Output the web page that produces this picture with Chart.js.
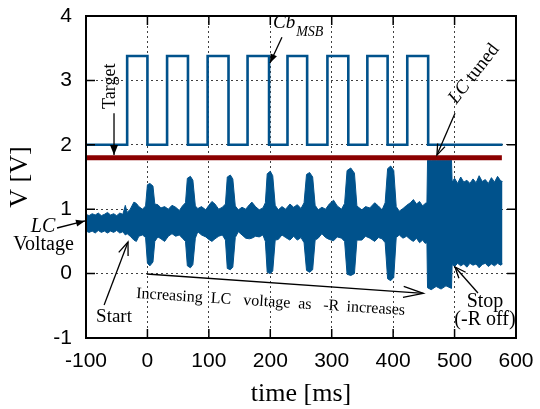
<!DOCTYPE html>
<html>
<head>
<meta charset="utf-8">
<script src="https://cdn.jsdelivr.net/npm/chart.js@4"></script>
<style>
  html, body { margin: 0; padding: 0; background: #fff; }
</style>
</head>
<body>
<canvas id="grafico" width="540" height="409"></canvas>
<script>
// LC voltage envelope: time (ms), upper and lower limit (V)
const lcTime = [
  -100, -95, -90, -85, -80, -75, -70, -65, -60, -55, -50, -45, -40, -36, -33, -28, -22, -18, -14, -8, -3,
  0, 4, 9, 12, 17, 22, 28, 34, 40, 46, 52, 57, 62,
  65, 70, 74, 78, 82, 88, 95, 100, 105, 110, 116, 122, 127,
  130, 135, 139, 143, 148, 154, 160, 166, 170, 176, 182, 188, 192,
  195, 200, 204, 208, 213, 219, 225, 232, 238, 244, 250, 255,
  259, 264, 269, 273, 278, 284, 290, 296, 303, 309, 316, 321,
  325, 331, 337, 341, 349, 355, 362, 370, 376, 382, 387,
  391, 396, 401, 405, 410, 416, 422, 428, 433, 438, 443, 448, 452, 455,
  456, 462, 470, 478, 486, 495,
  496, 500, 505, 510, 515, 520, 525, 530, 535, 540, 545, 550, 555, 560, 565, 570, 575, 578
];
const lcUpper = [
  0.92, 0.90, 0.93, 0.91, 0.94, 0.90, 0.92, 0.95, 0.91, 0.93, 0.90, 0.94, 0.92, 1.06, 0.95, 1.00, 1.11, 1.09, 1.04, 1.00, 1.05,
  1.38, 1.40, 1.36, 1.08, 1.07, 1.02, 1.04, 1.00, 1.06, 1.03, 0.98, 1.05, 1.10,
  1.48, 1.51, 1.45, 1.05, 1.01, 1.04, 0.99, 1.06, 1.12, 1.08, 1.00, 1.03, 1.08,
  1.50, 1.53, 1.47, 1.05, 0.99, 1.03, 1.00, 1.07, 1.11, 1.04, 0.99, 1.02, 1.10,
  1.55, 1.59, 1.52, 1.06, 0.99, 1.04, 1.00, 1.08, 1.03, 1.07, 1.01, 1.10,
  1.54, 1.57, 1.50, 1.06, 0.99, 1.03, 1.00, 1.08, 1.14, 1.05, 1.00, 1.09,
  1.60, 1.64, 1.56, 1.05, 0.99, 1.04, 1.02, 1.10, 1.05, 0.99, 1.10,
  1.63, 1.67, 1.60, 1.04, 0.97, 1.01, 1.06, 1.10, 1.15, 1.08, 1.12, 1.05, 1.09, 1.10,
  1.76, 1.76, 1.76, 1.76, 1.76, 1.76,
  1.42, 1.48, 1.40, 1.50, 1.42, 1.45, 1.40, 1.47, 1.41, 1.52, 1.43, 1.46, 1.40, 1.49, 1.42, 1.51, 1.44, 1.43
];
const lcLower = [
  0.66, 0.64, 0.66, 0.63, 0.67, 0.64, 0.66, 0.63, 0.66, 0.64, 0.67, 0.63, 0.65, 0.60, 0.62, 0.58, 0.52, 0.50, 0.58, 0.60, 0.56,
  0.16, 0.12, 0.18, 0.50, 0.57, 0.54, 0.50, 0.58, 0.62, 0.58, 0.60, 0.55, 0.50,
  0.12, 0.09, 0.14, 0.55, 0.65, 0.60, 0.57, 0.53, 0.50, 0.54, 0.58, 0.60, 0.52,
  0.08, 0.06, 0.10, 0.56, 0.65, 0.60, 0.55, 0.54, 0.55, 0.58, 0.57, 0.60, 0.50,
  0.02, 0.00, 0.04, 0.52, 0.53, 0.60, 0.56, 0.52, 0.58, 0.52, 0.56, 0.48,
  0.05, 0.02, 0.06, 0.52, 0.55, 0.62, 0.56, 0.53, 0.51, 0.57, 0.55, 0.50,
  -0.01, -0.03, 0.00, 0.52, 0.52, 0.58, 0.55, 0.50, 0.56, 0.54, 0.48,
  -0.08, -0.11, -0.06, 0.56, 0.60, 0.55, 0.58, 0.53, 0.50, 0.55, 0.48, 0.52, 0.47, 0.48,
  -0.22, -0.25, -0.20, -0.24, -0.19, -0.23,
  0.14, 0.11, 0.16, 0.12, 0.15, 0.10, 0.16, 0.13, 0.15, 0.09, 0.14, 0.16, 0.11, 0.15, 0.12, 0.16, 0.13, 0.15
];

// Cb_MSB bit: switching instants (ms) and level held from each one (V)
const cbTime = [-100, -33, 0, 32, 66, 98, 132, 163, 198, 228, 260, 293, 327, 358, 391, 423, 457, 578];
const cbLevel = [2.0, 3.38, 2.0, 3.38, 2.0, 3.38, 2.0, 3.38, 2.0, 3.38, 2.0, 3.38, 2.0, 3.38, 2.0, 3.38, 2.0, 2.0];

// target level
const targetTime = [-100, 577];
const targetLevel = [1.8, 1.8];

const xTicks = [-100, 0, 100, 200, 300, 400, 500, 600];
const yTicks = [-1, 0, 1, 2, 3, 4];

const BLUE = '#00528c';
const SERIF = '"Liberation Serif", "Times New Roman", serif';

const pts = (xs, ys) => xs.map((x, i) => ({ x: x, y: ys[i] }));

function arrow(ctx, x1, y1, x2, y2, len, half, filled) {
    const a = Math.atan2(y2 - y1, x2 - x1);
    ctx.beginPath();
    ctx.moveTo(x1, y1);
    ctx.lineTo(x2, y2);
    ctx.stroke();
    const bx = x2 - len * Math.cos(a), by = y2 - len * Math.sin(a);
    const px = -Math.sin(a) * half, py = Math.cos(a) * half;
    ctx.beginPath();
    ctx.moveTo(bx + px, by + py);
    ctx.lineTo(x2, y2);
    ctx.lineTo(bx - px, by - py);
    if (filled) { ctx.closePath(); ctx.fill(); } else { ctx.stroke(); }
}

// frame, inward ticks on all four sides and the annotations
const decorations = {
    id: 'decorations',
    afterDraw(chart) {
        const ctx = chart.ctx;
        const xs = chart.scales.x, ys = chart.scales.y;
        const a = chart.chartArea;
        const P = (t, v) => [xs.getPixelForValue(t), ys.getPixelForValue(v)];

        ctx.save();
        ctx.strokeStyle = '#000';
        ctx.fillStyle = '#000';

        ctx.lineWidth = 1.5;
        ctx.beginPath();
        xTicks.forEach(t => {
            const x = xs.getPixelForValue(t);
            ctx.moveTo(x, a.bottom); ctx.lineTo(x, a.bottom - 9);
            ctx.moveTo(x, a.top); ctx.lineTo(x, a.top + 9);
        });
        yTicks.forEach(v => {
            const y = ys.getPixelForValue(v);
            ctx.moveTo(a.left, y); ctx.lineTo(a.left + 9, y);
            ctx.moveTo(a.right, y); ctx.lineTo(a.right - 9, y);
        });
        ctx.stroke();

        ctx.lineWidth = 2;
        ctx.strokeRect(a.left, a.top, a.right - a.left, a.bottom - a.top);

        ctx.lineWidth = 1.3;
        let p, q;

        // Target
        p = P(-54.4, 2.49); q = P(-54.4, 1.84);
        arrow(ctx, p[0], p[1], q[0], q[1], 10, 4, true);
        p = P(-60.8, 2.91);
        ctx.save();
        ctx.translate(p[0], p[1]);
        ctx.rotate(-Math.PI / 2);
        ctx.font = '18px ' + SERIF;
        ctx.textAlign = 'center';
        ctx.textBaseline = 'middle';
        ctx.fillText('Target', 0, 0);
        ctx.restore();

        // Cb_MSB
        p = P(219, 3.67); q = P(199.5, 3.27);
        arrow(ctx, p[0], p[1], q[0], q[1], 9, 3.5, true);
        p = P(204.4, 3.814);
        ctx.textAlign = 'left';
        ctx.textBaseline = 'alphabetic';
        ctx.font = 'italic 19px ' + SERIF;
        ctx.fillText('Cb', p[0], p[1]);
        const cbw = ctx.measureText('Cb').width;
        ctx.font = 'italic 14px ' + SERIF;
        ctx.fillText('MSB', p[0] + cbw + 1, p[1] + 8);

        // LC tuned
        p = P(500.7, 2.49); q = P(471.3, 1.84);
        arrow(ctx, p[0], p[1], q[0], q[1], 11, 4, false);
        p = P(531.6, 3.10);
        ctx.save();
        ctx.translate(p[0], p[1]);
        ctx.rotate(-52 * Math.PI / 180);
        ctx.textBaseline = 'middle';
        ctx.font = 'italic 19px ' + SERIF;
        const w1 = ctx.measureText('LC').width;
        ctx.font = '19px ' + SERIF;
        const w2 = ctx.measureText(' tuned').width;
        ctx.font = 'italic 19px ' + SERIF;
        ctx.fillText('LC', -(w1 + w2) / 2, 0);
        ctx.font = '19px ' + SERIF;
        ctx.fillText(' tuned', -(w1 + w2) / 2 + w1, 0);
        ctx.restore();

        // LC Voltage
        p = P(-147.2, 0.708); q = P(-101.6, 0.817);
        arrow(ctx, p[0], p[1], q[0], q[1], 9, 3.5, true);
        ctx.textAlign = 'center';
        ctx.textBaseline = 'alphabetic';
        ctx.font = 'italic 20px ' + SERIF;
        p = P(-170, 0.646);
        ctx.fillText('LC', p[0], p[1]);
        ctx.font = '20px ' + SERIF;
        p = P(-169.2, 0.366);
        ctx.fillText('Voltage', p[0], p[1]);

        // Start
        p = P(-70.5, -0.488); q = P(-31.6, 0.491);
        arrow(ctx, p[0], p[1], q[0], q[1], 13, 5, false);
        ctx.font = '19px ' + SERIF;
        p = P(-54.4, -0.752);
        ctx.fillText('Start', p[0], p[1]);

        // Stop
        p = P(538.1, -0.301); q = P(500.7, 0.102);
        arrow(ctx, p[0], p[1], q[0], q[1], 11, 4.5, false);
        ctx.font = '20px ' + SERIF;
        p = P(549.5, -0.514);
        ctx.fillText('Stop', p[0], p[1]);
        p = P(549.5, -0.798);
        ctx.fillText('(-R off)', p[0], p[1]);

        // Increasing LC voltage as -R increases
        p = P(-1.2, -0.006); q = P(449.1, -0.306);
        arrow(ctx, p[0], p[1], q[0], q[1], 20, 5.5, false);
        p = P(-18.6, -0.379);
        ctx.save();
        ctx.translate(p[0], p[1]);
        ctx.rotate(3.6 * Math.PI / 180);
        ctx.textAlign = 'left';
        ctx.font = '16px ' + SERIF;
        const words = ['Increasing', 'LC', 'voltage', 'as', '-R', 'increases'];
        const offs = [0, 74.7, 107.3, 162.3, 187.3, 210.7];
        words.forEach((wd, i) => ctx.fillText(wd, offs[i], 0));
        ctx.restore();

        ctx.restore();
    }
};

new Chart(document.getElementById('grafico').getContext('2d'), {
    type: 'line',
    data: {
        datasets: [
            {
                label: 'LC upper',
                data: pts(lcTime, lcUpper),
                borderColor: BLUE,
                backgroundColor: BLUE,
                borderWidth: 1,
                pointRadius: 0,
                fill: '+1',
                order: 3
            },
            {
                label: 'LC lower',
                data: pts(lcTime, lcLower),
                borderColor: BLUE,
                borderWidth: 1,
                pointRadius: 0,
                fill: false,
                order: 3
            },
            {
                label: 'Cb_MSB',
                data: pts(cbTime, cbLevel),
                borderColor: BLUE,
                borderWidth: 2.6,
                pointRadius: 0,
                stepped: 'before',
                fill: false,
                order: 2
            },
            {
                label: 'Target',
                data: pts(targetTime, targetLevel),
                borderColor: '#8b0000',
                borderWidth: 5,
                pointRadius: 0,
                fill: false,
                order: 1
            }
        ]
    },
    options: {
        responsive: false,
        animation: false,
        events: [],
        layout: { padding: { top: 16, right: 24, left: 0, bottom: 0 } },
        plugins: {
            legend: { display: false },
            tooltip: { enabled: false }
        },
        scales: {
            x: {
                type: 'linear',
                min: -100,
                max: 600,
                afterBuildTicks: s => { s.ticks = xTicks.map(v => ({ value: v })); },
                afterFit: s => { s.height = 71; s.paddingLeft = 0; s.paddingRight = 0; },
                grid: { color: 'rgba(0,0,0,0.75)', lineWidth: 1, drawTicks: false },
                border: { display: false, dash: [2, 3] },
                ticks: {
                    color: '#000',
                    padding: 11,
                    maxRotation: 0,
                    font: { family: '"Liberation Sans", Arial, sans-serif', size: 21 }
                },
                title: {
                    display: true,
                    text: 'time [ms]',
                    color: '#000',
                    font: { family: SERIF, size: 26, lineHeight: 1 },
                    padding: { top: 0, bottom: 2 }
                }
            },
            y: {
                min: -1,
                max: 4,
                afterBuildTicks: s => { s.ticks = yTicks.map(v => ({ value: v })); },
                afterFit: s => { s.width = 86; s.paddingTop = 0; s.paddingBottom = 0; },
                grid: { color: 'rgba(0,0,0,0.75)', lineWidth: 1, drawTicks: false },
                border: { display: false, dash: [2, 3] },
                ticks: {
                    color: '#000',
                    padding: 14,
                    font: { family: '"Liberation Sans", Arial, sans-serif', size: 21 }
                },
                title: {
                    display: true,
                    text: 'V [V]',
                    color: '#000',
                    font: { family: SERIF, size: 26, lineHeight: 1 },
                    padding: { top: 7, bottom: 0 }
                }
            }
        }
    },
    plugins: [decorations]
});
</script>
</body>
</html>
